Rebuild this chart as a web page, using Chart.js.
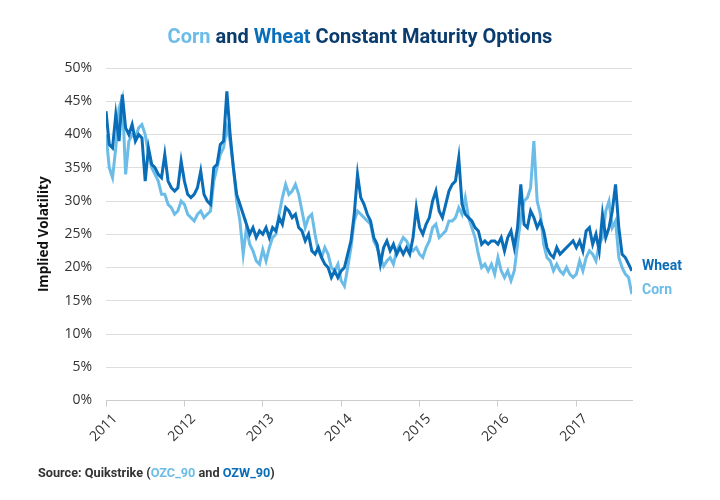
<!DOCTYPE html>
<html>
<head>
<meta charset="utf-8">
<script src="https://cdn.jsdelivr.net/npm/chart.js@4"></script>
<style>
  body { margin: 0; background: #fff; }
  #wrap { position: relative; width: 720px; height: 500px; }
  #title { position: absolute; top: 24px; left: 0; width: 720px; text-align: center;
           font: bold 20px Roboto, sans-serif; color: #0b3c6e; }
  #source { position: absolute; left: 38px; top: 465px; font: bold 12.7px Roboto, sans-serif; color: #333; }
  .corn { color: #6cbce8; }
  .wheat { color: #0a6db8; }
</style>
</head>
<body>
<div id="wrap">
  <canvas id="chVol" width="720" height="500"></canvas>
  <div id="title"><span class="corn">Corn</span> and <span class="wheat">Wheat</span> Constant Maturity Options</div>
  <div id="source">Source: Quikstrike (<span class="corn">OZC_90</span> and <span class="wheat">OZW_90</span>)</div>
</div>
<script>
// implied vol (%), two readings per month starting Jan 2011
var wheat2011 = [43.5, 38.5, 38, 43, 39, 46, 41, 40, 41.5, 39, 40, 39.5, 33, 38, 35.5, 35, 34, 33.5, 37, 33, 32, 31.5, 32, 36];
var wheat2012 = [33, 31, 30.5, 31, 32, 34.5, 31, 30, 29.5, 35, 35.5, 38.5, 39, 46.5, 40, 35, 31, 29.5, 28, 26.5, 25, 26, 24.5, 25.5];
var wheat2013 = [25, 26, 24.5, 26, 25.5, 27.5, 26.5, 29, 28.5, 27.5, 28, 26, 25.5, 24, 25, 22.5, 22, 23, 21.5, 20.5, 20, 18.5, 19.5, 18.5];
var wheat2014 = [19.5, 20, 22, 24, 28, 34, 30.5, 29.5, 28, 27, 24.5, 23.5, 20.5, 23, 24, 22.5, 23.5, 22, 23, 22, 23, 22, 24.5, 29];
var wheat2015 = [26, 25, 26.5, 27.5, 30, 31.5, 28.5, 27.5, 29.5, 31.5, 32.5, 33, 36.5, 29.5, 28, 27.5, 27, 26, 25.5, 23.5, 24, 23.5, 24, 24];
var wheat2016 = [23.5, 24.5, 22.5, 24.5, 25.5, 23, 26, 32.5, 26.5, 26, 28.5, 27.5, 26, 27, 25.5, 23, 22, 21.5, 23, 22, 22.5, 23, 23.5, 24];
var wheat2017 = [23, 24, 22.5, 25.5, 26, 23.5, 25, 22.5, 28, 24.5, 26, 28.5, 32.5, 26, 22, 21.5, 20.5, 19.5];

var corn2011 = [40, 35, 33.5, 38, 44, 45.5, 34, 39, 40, 39.5, 41, 41.5, 40, 37, 35, 34, 33, 31, 31, 29.5, 29, 28, 28.5, 30];
var corn2012 = [29.5, 28, 27.5, 27, 28, 28.5, 27.5, 28, 28.5, 33, 35, 37, 38, 41, 39, 35, 30, 27, 22, 26, 23.5, 22.5, 21, 20.5];
var corn2013 = [22.7, 21, 23, 24.5, 25, 28, 30.5, 32.5, 31, 31.5, 32.5, 31, 28.5, 26, 27.5, 28, 25, 22.5, 21.5, 23, 22, 20, 19.5, 20.5];
var corn2014 = [18, 17.2, 20, 23, 27, 28.5, 28, 27.5, 27, 26.5, 24, 23, 21.5, 20.2, 21, 21.5, 20.5, 22.5, 23.5, 24.5, 24, 23, 22.5, 23];
var corn2015 = [22, 21.5, 23, 24, 26, 26.5, 24.5, 25, 25.5, 27, 27, 27.5, 29, 28, 30.5, 27.5, 26, 24.5, 22, 20, 20.5, 19.5, 20.5, 19];
var corn2016 = [21.5, 19.5, 18.5, 19.5, 18, 19.5, 23.5, 27.5, 30, 30.5, 32, 39, 30, 28, 23.5, 21.5, 21, 19.5, 20.5, 19.5, 19, 20, 19, 18.5];
var corn2017 = [19, 21, 19.5, 21.5, 22.5, 22, 21, 23.5, 24.5, 28.5, 30, 26, 27, 21.5, 20, 19, 18.5, 16];

var yearTicks = [2011, 2012, 2013, 2014, 2015, 2016, 2017];
var yTicks = [0, 5, 10, 15, 20, 25, 30, 35, 40, 45, 50];

var firstYear = 2011, perYear = 24, lastDate = 2017.71;

var wheat = [].concat(wheat2011, wheat2012, wheat2013, wheat2014, wheat2015, wheat2016, wheat2017);
var corn = [].concat(corn2011, corn2012, corn2013, corn2014, corn2015, corn2016, corn2017);
var dates = wheat.map(function (v, i) { return firstYear + i / perYear; });

function pairs(vals) {
  return vals.map(function (v, i) { return { x: dates[i], y: v }; });
}

// series name written at the end of each line
var endLabels = {
  id: 'endLabels',
  afterDatasetsDraw: function (chart) {
    var ctx = chart.ctx;
    chart.data.datasets.forEach(function (ds, i) {
      var pts = chart.getDatasetMeta(i).data;
      var last = pts[pts.length - 1];
      ctx.save();
      ctx.font = 'bold 14px Roboto';
      ctx.fillStyle = ds.borderColor;
      ctx.textBaseline = 'middle';
      ctx.fillText(ds.label, chart.chartArea.right + 10, last.y + ds.labelShift);
      ctx.restore();
    });
  }
};

new Chart(document.getElementById('chVol'), {
  type: 'line',
  data: {
    datasets: [
      { label: 'Wheat', data: pairs(wheat), borderColor: '#0a6db8', borderWidth: 3, pointRadius: 0, tension: 0, labelShift: -4.5 },
      { label: 'Corn', data: pairs(corn), borderColor: '#6cbce8', borderWidth: 3, pointRadius: 0, tension: 0, labelShift: -4 }
    ]
  },
  options: {
    responsive: false,
    animation: false,
    layout: { padding: { top: 68, right: 88, left: 0, bottom: 0 } },
    plugins: { legend: { display: false }, tooltip: { enabled: false } },
    scales: {
      x: {
        type: 'linear', min: firstYear, max: lastDate,
        afterBuildTicks: function (s) { s.ticks = yearTicks.map(function (v) { return { value: v }; }); },
        afterFit: function (s) { s.height = 99.5; },
        ticks: { minRotation: 45, maxRotation: 45, autoSkip: false, labelOffset: 9, padding: 4,
                 color: '#333', font: { family: 'Open Sans', size: 14 },
                 callback: function (v) { return String(v); } },
        grid: { drawOnChartArea: false, drawTicks: true, tickLength: 6, color: '#ccc' },
        border: { display: true, color: '#ccc' }
      },
      y: {
        min: 0, max: 50,
        afterBuildTicks: function (s) { s.ticks = yTicks.map(function (v) { return { value: v }; }); },
        afterFit: function (s) { s.width = 106; },
        ticks: { padding: 14, color: '#333', font: { family: 'Open Sans', size: 14 },
                 callback: function (v) { return v + '%'; } },
        grid: { color: '#dedede', drawTicks: false },
        border: { display: false },
        title: { display: true, text: 'Implied Volatility', color: '#111', padding: { top: 36 },
                 font: { family: 'Open Sans', weight: 'bold', size: 13.5 } }
      }
    }
  },
  plugins: [endLabels]
});
</script>
</body>
</html>
